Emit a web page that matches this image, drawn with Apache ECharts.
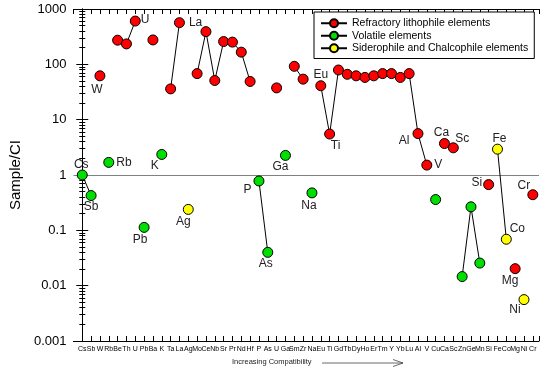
<!DOCTYPE html>
<html>
<head>
<meta charset="utf-8">
<script src="https://cdn.jsdelivr.net/npm/echarts@6/dist/echarts.min.js"></script>
<style>
  html, body { margin: 0; padding: 0; background: #fff; }
  #chart { width: 545px; height: 369px; }
</style>
</head>
<body>
<div id="chart"></div>
<script>
// elements in order of increasing compatibility
const elements = ['Cs', 'Sb', 'W', 'Rb', 'Be', 'Th', 'U', 'Pb', 'Ba', 'K', 'Ta', 'La', 'Ag', 'Mo', 'Ce', 'Nb', 'Sr', 'Pr', 'Nd', 'Hf',
  'P', 'As', 'U', 'Ga', 'Sm', 'Zr', 'Na', 'Eu', 'Ti', 'Gd', 'Tb', 'Dy', 'Ho', 'Er', 'Tm', 'Y', 'Yb', 'Lu', 'Al', 'V',
  'Cu', 'Ca', 'Sc', 'Zn', 'Ge', 'Mn', 'Si', 'Fe', 'Co', 'Mg', 'Ni', 'Cr']

// sample / CI, null where the element belongs to another group
const refractory = [null, null, 62, null, 273, 234, 605, null, 276, null, 36, 566, null, 68, 390, 51, 258, 252, 166, 49,
  null, null, 37.5, null, 92, 54, null, 41, 5.5, 79, 66, 62, 58, 62, 68, 68, 58, 68, 5.6, 1.51,
  null, 3.7, 3.1, null, null, null, 0.67, null, null, 0.0203, null, 0.44]
const volatile = [1.0, 0.425, null, 1.69, null, null, null, 0.113, null, 2.35, null, null, null, null, null, null, null, null, null, null,
  0.78, 0.040, null, 2.26, null, null, 0.475, null, null, null, null, null, null, null, null, null, null, null, null, null,
  0.36, null, null, 0.0146, 0.266, 0.0256, null, null, null, null, null, null]
const siderophile = [null, null, null, null, null, null, null, null, null, null, null, null, 0.239, null, null, null, null, null, null, null,
  null, null, null, null, null, null, null, null, null, null, null, null, null, null, null, null, null, null, null, null,
  null, null, null, null, null, null, null, 2.93, 0.069, null, 0.0056, null]

const yTicks = [0.001, 0.01, 0.1, 1, 10, 100, 1000]

// where each point label sits (index -> [position, offset])
const labelPlace = {
  0: ['top', [-1, 2]], 1: ['bottom', [0, -1]], 2: ['bottom', [-3, 1]], 3: ['right', [1, 0]],
  6: ['right', [-1, -1]], 7: ['bottom', [-4, 0]], 9: ['bottom', [-7, -1]], 11: ['right', [3, 0]],
  12: ['bottom', [-5, 0]], 20: ['left', [-1, 9]], 21: ['bottom', [-2, -1]], 23: ['bottom', [-5, -1]],
  26: ['bottom', [-3, 0]], 27: ['top', [0, 1]], 28: ['bottom', [6, -1]], 38: ['left', [-2, 7]],
  39: ['right', [1, 0]], 41: ['top', [-3, 2]], 42: ['top', [9, 3]], 46: ['left', [0, -2]],
  47: ['top', [2, 2]], 48: ['top', [11, 2]], 49: ['bottom', [-5, 0]], 50: ['bottom', [-9, -2]],
  51: ['top', [-9, 3]]
}

function toData (values) {
  return values.map((v, i) => {
    const item = { value: [i, v == null ? null : v] }
    if (v != null && labelPlace[i]) {
      item.label = {
        show: true,
        position: labelPlace[i][0],
        offset: labelPlace[i][1],
        distance: 1,
        formatter: elements[i]
      }
    }
    return item
  })
}

function makeSeries (name, values, color) {
  return {
    name: name,
    type: 'line',
    data: toData(values),
    connectNulls: false,
    symbol: 'circle',
    symbolSize: 10,
    showAllSymbol: true,
    lineStyle: { color: '#000', width: 1 },
    itemStyle: { color: color, borderColor: '#000', borderWidth: 1 },
    label: { color: '#222', fontSize: 12, fontFamily: 'Liberation Sans' },
    emphasis: { disabled: true },
    z: 3
  }
}

const chart = echarts.init(document.getElementById('chart'))
const axisFont = { fontFamily: 'Liberation Sans', color: '#000' }
// ticks only render here when split lines are on, so keep them invisible
const noGrid = { show: true, lineStyle: { color: 'rgba(0,0,0,0)' } }

const series = [
  makeSeries('Refractory lithophile elements', refractory, '#ff0000'),
  makeSeries('Volatile elements', volatile, '#00e000'),
  makeSeries('Siderophile and Chalcophile elements', siderophile, '#ffff00')
]
series[0].markLine = {
  silent: true,
  symbol: 'none',
  label: { show: false },
  lineStyle: { color: '#808080', type: 'solid', width: 1 },
  data: [{ yAxis: 1 }],
  z: 1
}

chart.setOption({
  animation: false,
  textStyle: { fontFamily: 'Liberation Sans' },
  grid: { left: 65, right: 6, top: 9, bottom: 28 },
  legend: {
    orient: 'vertical',
    left: 314,
    top: 12,
    padding: [5, 6, 4, 6],
    itemGap: 0,
    itemWidth: 26,
    itemHeight: 10,
    borderColor: '#000',
    borderWidth: 1,
    backgroundColor: '#fff',
    textStyle: { fontSize: 10.5, lineHeight: 12.5, color: '#000', fontFamily: 'Liberation Sans' },
    data: series.map(s => s.name)
  },
  xAxis: [
    {
      type: 'value',
      position: 'bottom',
      min: -1,
      max: 51.7,
      interval: 1,
      splitLine: noGrid,
      axisLine: { show: true, lineStyle: { color: '#000' } },
      axisTick: { show: true, inside: true, length: 5, lineStyle: { color: '#000', width: 1 } },
      axisLabel: {
        ...axisFont,
        fontSize: 7,
        margin: 5,
        showMinLabel: false,
        formatter: v => elements[v] || ''
      }
    },
    {
      type: 'value',
      position: 'top',
      min: -1,
      max: 51.7,
      interval: 1,
      splitLine: noGrid,
      axisLine: { show: true, lineStyle: { color: '#000' } },
      axisTick: { show: true, inside: true, length: 5, lineStyle: { color: '#000', width: 1 } },
      axisLabel: { show: false }
    }
  ],
  yAxis: [
    {
      type: 'log',
      logBase: 10,
      min: 0.001,
      max: 1000,
      name: 'Sample/CI',
      nameLocation: 'middle',
      nameGap: 48,
      nameTextStyle: { ...axisFont, fontSize: 15 },
      splitLine: noGrid,
      axisLine: { show: true, lineStyle: { color: '#000' } },
      axisTick: { show: true, inside: true, length: 6, lineStyle: { color: '#000', width: 1 } },
      minorTick: { show: true, splitNumber: 9, length: 3, lineStyle: { color: '#000' } },
      axisLabel: {
        ...axisFont,
        fontSize: 13,
        margin: 7,
        formatter: v => String(yTicks.find(t => Math.abs(Math.log10(t) - Math.log10(v)) < 1e-6) ?? v)
      }
    },
    {
      type: 'log',
      logBase: 10,
      min: 0.001,
      max: 1000,
      position: 'right',
      splitLine: noGrid,
      axisLine: { show: true, lineStyle: { color: '#000' } },
      axisTick: { show: true, inside: true, length: 6, lineStyle: { color: '#000', width: 1 } },
      minorTick: { show: true, splitNumber: 9, length: 3, lineStyle: { color: '#000' } },
      axisLabel: { show: false }
    }
  ],
  graphic: [
    {
      type: 'text',
      left: 232,
      top: 358,
      style: { text: 'Increasing Compatibility', font: '7.5px "Liberation Sans"', fill: '#222' }
    },
    {
      type: 'polyline',
      shape: { points: [[322, 363], [403, 363]] },
      style: { stroke: '#444', lineWidth: 0.8, fill: null }
    },
    {
      type: 'polyline',
      shape: { points: [[393, 359.5], [403, 363], [393, 366.5]] },
      style: { stroke: '#444', lineWidth: 0.8, fill: null }
    }
  ],
  series: series
})
</script>
</body>
</html>
